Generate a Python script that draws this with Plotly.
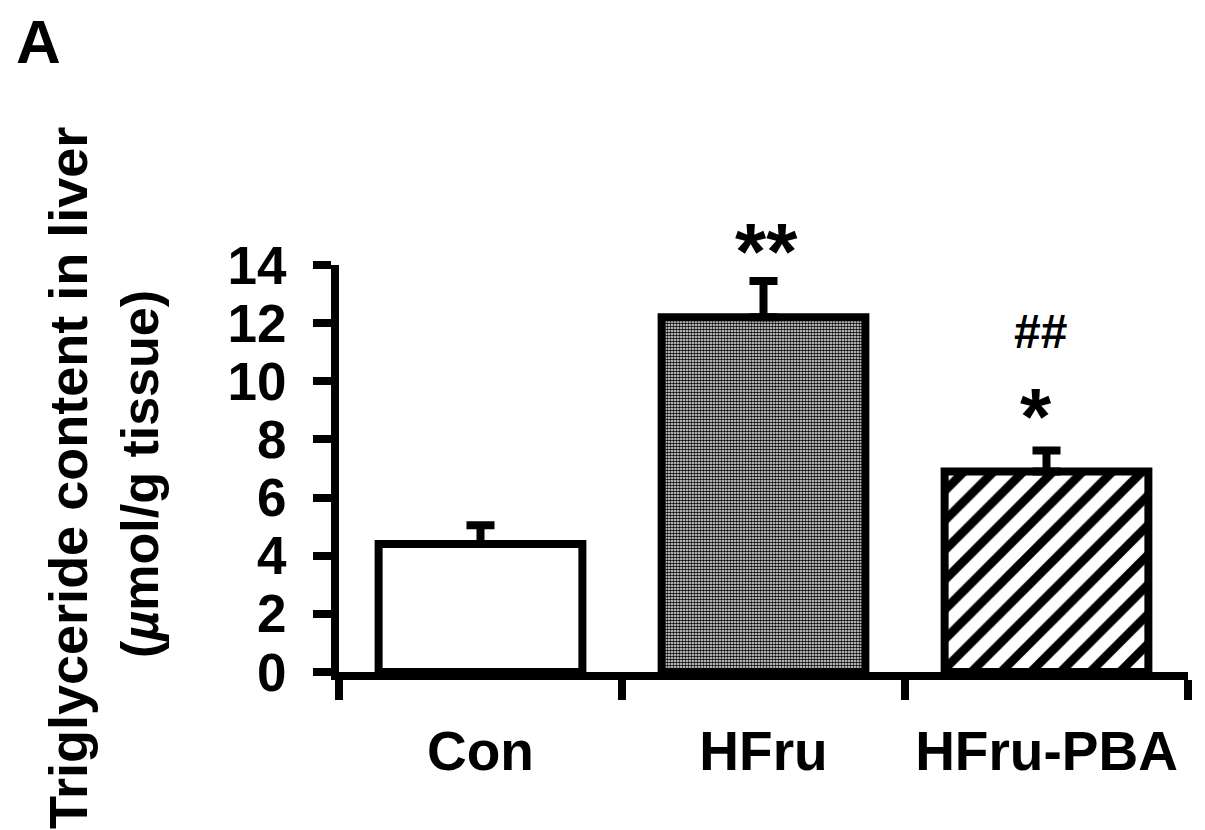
"""Triglyceride content in liver, bar chart with SEM error bars."""
import plotly.graph_objects as go

groups = ["Con", "HFru", "HFru-PBA"]
tg_mean = [4.4, 12.2, 6.9]
tg_sem = [0.65, 1.25, 0.72]
y_ticks = [0, 2, 4, 6, 8, 10, 12, 14]

W, H = 1205, 830
L, R, T, B = 331, 25, 257, 166
FONT = "Liberation Sans, Arial, sans-serif"


def paper_xy(px, py):
    # convert page pixels to paper coordinates
    return (px - L) / (W - L - R), (H - B - py) / (H - T - B)


# significance marks: (page x, page y of glyph box centre, text, size)
marks = [(758, 243, "**", 80), (1028, 408, "*", 80), (1032, 323, "##", 48)]

patterns = [
    {"shape": ""},
    {"shape": ".", "size": 3, "solidity": 0.6, "fgcolor": "black", "bgcolor": "white", "fgopacity": 1},
    {"shape": "/", "size": 21, "solidity": 0.42, "fgcolor": "black", "bgcolor": "white", "fgopacity": 1},
]

fig = go.Figure()
for g, m, s, p in zip(groups, tg_mean, tg_sem, patterns):
    fig.add_trace(
        go.Bar(
            x=[g],
            y=[m],
            width=0.72,
            marker={"color": "white", "line": {"color": "black", "width": 8}, "pattern": p},
            error_y={
                "type": "data",
                "symmetric": False,
                "array": [s],
                "arrayminus": [0],
                "color": "black",
                "thickness": 8,
                "width": 14,
            },
            showlegend=False,
        )
    )

for px, py, txt, size in marks:
    x, y = paper_xy(px, py)
    fig.add_annotation(
        x=x, y=y, xref="paper", yref="paper", text=txt, showarrow=False,
        xanchor="center", yanchor="middle",
        font={"family": FONT, "size": size, "color": "black", "weight": "bold"},
    )

# axis title, two rotated lines placed by hand
titles = [
    (60, 470, "Triglyceride content in liver", 54),
    (132, 466, "(<i>µ</i>mol/g tissue)", 52),
]
for px, py, txt, size in titles:
    x, y = paper_xy(px, py)
    fig.add_annotation(
        x=x, y=y, xref="paper", yref="paper", text=txt, textangle=-90, showarrow=False,
        xanchor="center", yanchor="middle",
        font={"family": FONT, "size": size, "color": "black", "weight": "bold"},
    )

xa, ya = paper_xy(30, 34)
fig.add_annotation(
    x=xa, y=ya, xref="paper", yref="paper", text="A", showarrow=False,
    xanchor="center", yanchor="middle",
    font={"family": FONT, "size": 62, "color": "black", "weight": "bold"},
)

fig.update_xaxes(
    type="category",
    range=[-0.5, 2.5],
    showline=True,
    linecolor="black",
    linewidth=8,
    ticks="outside",
    tickson="boundaries",
    ticklen=20,
    tickwidth=8,
    tickcolor="black",
    ticklabelstandoff=24,
    showgrid=False,
    tickfont={"family": FONT, "size": 55, "color": "black", "weight": "bold"},
)
fig.update_yaxes(
    range=[0, 14],
    tickvals=y_ticks,
    showline=True,
    linecolor="black",
    linewidth=8,
    ticks="outside",
    ticklen=18,
    tickwidth=8,
    tickcolor="black",
    ticklabelstandoff=16,
    showgrid=False,
    zeroline=False,
    tickfont={"family": FONT, "size": 53, "color": "black", "weight": "bold"},
)
fig.update_layout(
    width=W,
    height=H,
    margin={"l": L, "r": R, "t": T, "b": B},
    plot_bgcolor="white",
    paper_bgcolor="white",
)

fig.write_html("out.html")
